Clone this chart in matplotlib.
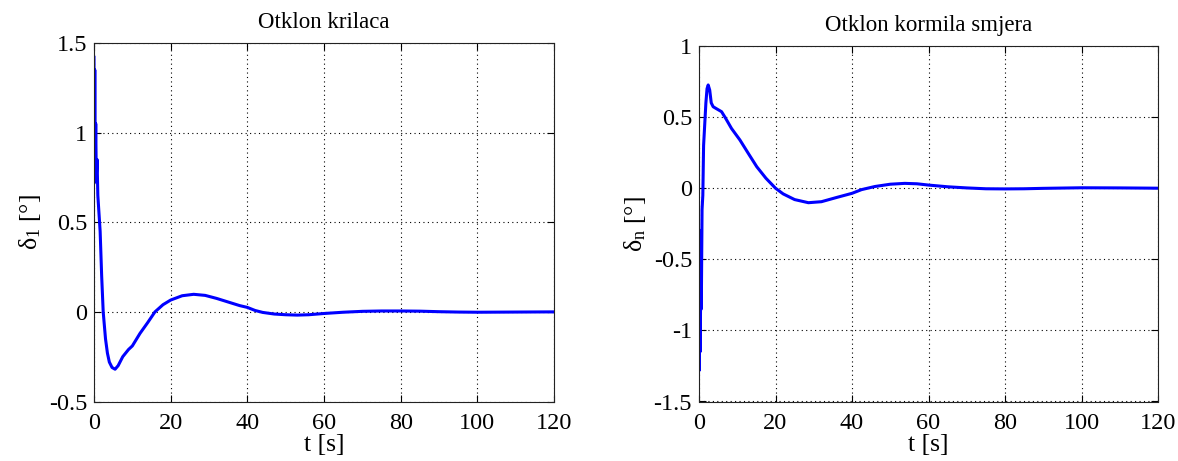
import matplotlib
matplotlib.use("Agg")
import matplotlib.pyplot as plt
from matplotlib.ticker import FuncFormatter

plt.rcParams['font.family'] = ['Liberation Serif', 'DejaVu Serif']
plt.rcParams['mathtext.fontset'] = 'custom'
plt.rcParams['mathtext.rm'] = 'Liberation Serif'
plt.rcParams['mathtext.it'] = 'Liberation Serif'
plt.rcParams['axes.unicode_minus'] = False

# Aileron deflection (left)
t_aileron = [0, 0.1, 0.2, 0.3, 0.45, 0.6, 0.8, 1.0, 1.3, 1.6, 2.0, 2.4, 3.0, 3.5, 4.0,
             4.7, 5.5, 6.3, 7.5, 9, 10, 12, 14, 15.9, 18, 20, 23, 26, 29, 32, 35, 38,
             40, 42, 44, 47, 50, 53, 56, 60, 65, 70, 75, 80, 85, 90, 95, 100, 110, 120]
d_aileron = [1.42, 0.72, 1.35, 0.80, 1.05, 0.75, 0.85, 0.65, 0.55, 0.45, 0.20, 0.0, -0.15,
             -0.23, -0.28, -0.31, -0.32, -0.30, -0.25, -0.21, -0.19, -0.12, -0.06, 0.0,
             0.04, 0.066, 0.09, 0.098, 0.092, 0.075, 0.055, 0.035, 0.025, 0.008, -0.003,
             -0.012, -0.016, -0.018, -0.016, -0.009, -0.002, 0.003, 0.005, 0.005, 0.004,
             0.001, -0.001, -0.002, -0.001, 0.0]

# Rudder deflection (right)
t_rudder = [0, 0.1, 0.2, 0.3, 0.45, 0.6, 0.8, 1.0, 1.2, 1.5, 1.8, 2.1, 2.4, 2.8, 3.2,
            3.7, 4.5, 5.9, 7.0, 8.5, 10.7, 13, 15.1, 17.5, 20, 22, 25, 28.6, 32, 36,
            40, 42.5, 46, 50, 53.8, 57, 60, 65, 70, 75, 80, 85, 90, 100, 110, 120]
d_rudder = [-0.30, -1.28, -0.55, -1.15, -0.70, -0.85, -0.15, -0.05, 0.30, 0.45, 0.60,
            0.70, 0.726, 0.69, 0.60, 0.573, 0.56, 0.538, 0.49, 0.42, 0.339, 0.24, 0.151,
            0.07, 0.0, -0.04, -0.08, -0.102, -0.095, -0.065, -0.036, -0.01, 0.012, 0.028,
            0.034, 0.031, 0.022, 0.01, 0.002, -0.004, -0.005, -0.004, -0.001, 0.003,
            0.002, 0.0]

fig = plt.figure(figsize=(11.78, 4.61), dpi=100)
ax1 = fig.add_axes([94/1178, 1-401.5/461, 460/1178, 358.5/461])
ax2 = fig.add_axes([699/1178, 1-401.5/461, 459/1178, 355.5/461])

fmt = FuncFormatter(lambda v, p: ('%g' % v))

for ax, t, d, ylim, yticks, title, ylab in [
    (ax1, t_aileron, d_aileron, (-0.5, 1.5), [-0.5, 0, 0.5, 1, 1.5], 'Otklon krilaca', r'$\delta_1$ [°]'),
    (ax2, t_rudder, d_rudder, (-1.5, 1), [-1.5, -1, -0.5, 0, 0.5, 1], 'Otklon kormila smjera', r'$\delta_\mathrm{n}$ [°]'),
]:
    ax.plot(t, d, color='#0000ff', lw=2.2)
    ax.set_xlim(0, 120)
    ax.set_ylim(*ylim)
    ax.set_xticks([0, 20, 40, 60, 80, 100, 120])
    ax.set_yticks(yticks)
    ax.yaxis.set_major_formatter(fmt)
    ax.xaxis.set_major_formatter(fmt)
    ax.grid(True, color='black', linestyle=(0, (1, 3)), linewidth=0.8)
    ax.tick_params(direction='in', length=5, top=True, right=True, labelsize=17.5)
    ax.tick_params(axis='x', pad=8)
    ax.tick_params(axis='y', pad=5)
    for s in ax.spines.values():
        s.set_linewidth(0.8)
        s.set_color('#222222')
    ax.set_title(title, fontsize=16.5, pad=11)
    ax.set_xlabel('t [s]', fontsize=18.5, labelpad=0)
    ax.set_ylabel(ylab, fontsize=18.5, labelpad=4)

fig.savefig('out.png', dpi=100, facecolor='white')
